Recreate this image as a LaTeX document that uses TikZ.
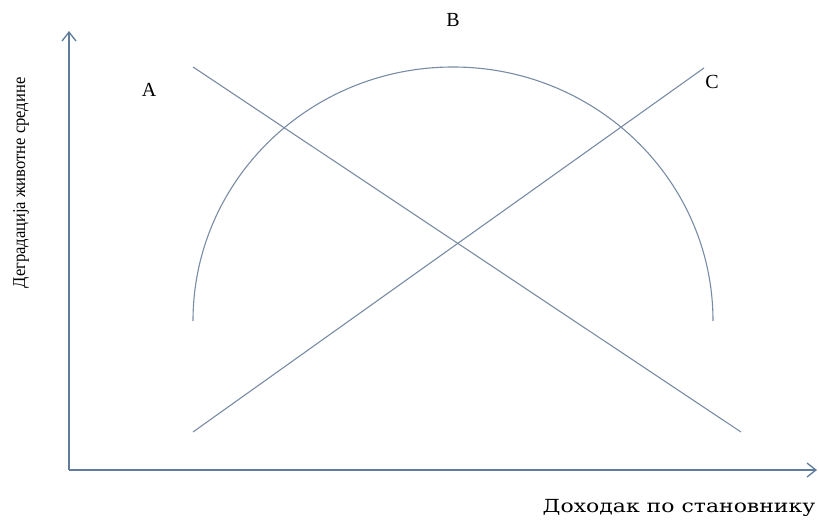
\documentclass[tikz,border=0pt]{standalone}
\usepackage{fontspec}
\setmainfont{Liberation Serif}
\newfontfamily\slabfont{DejaVu Serif}
\usepackage{tikz}
\usetikzlibrary{arrows.meta,positioning,calc}
\definecolor{axisblue}{RGB}{95,125,155}
\definecolor{curveblue}{RGB}{120,140,165}
\tikzset{
  axis/.style={draw=axisblue, line width=1.3pt, -{Straight Barb[length=9pt, width=14pt]}},
  curve/.style={draw=curveblue, line width=1.1pt},
  lbl/.style={font=\fontsize{20}{23}\selectfont, inner sep=0pt},
  ttl/.style={font=\fontsize{18}{21}\selectfont, inner sep=0pt}
}
\begin{document}
\begin{tikzpicture}[x=1pt, y=1pt]
        \useasboundingbox (0,0) rectangle (819,-521);
        % axes
        \coordinate (o) at (69,-470);
        \coordinate (ytop) at (69,-31);
        \coordinate (xend) at (817,-470);
        \draw[axis] (o) -- (ytop);
        \draw[axis] (o) -- (xend);
        % falling and rising lines
        \coordinate (a1) at (193,-67);
        \coordinate (a2) at (741,-432);
        \coordinate (c1) at (193,-432);
        \coordinate (c2) at (704,-68);
        \draw[curve] (a1) -- (a2);
        \draw[curve] (c1) -- (c2);
        % arc
        \coordinate (b1) at (193,-321);
        \draw[curve] (b1) arc[start angle=180, end angle=0, x radius=260, y radius=254];
        % labels
        \node[lbl] (la) at (149,-90) {A};
        \node[lbl] (lb) at (453,-20) {B};
        \node[lbl] (lc) at (712,-82) {C};
        \node[ttl, rotate=90, xscale=0.92] (ylab) at (21,-183) {Деградација животне средине};
        \node[ttl, font=\slabfont\fontsize{18}{21}\selectfont, xscale=1.22] (xlab) at (679,-508) {Доходак по становнику};
      \end{tikzpicture}
\end{document}
